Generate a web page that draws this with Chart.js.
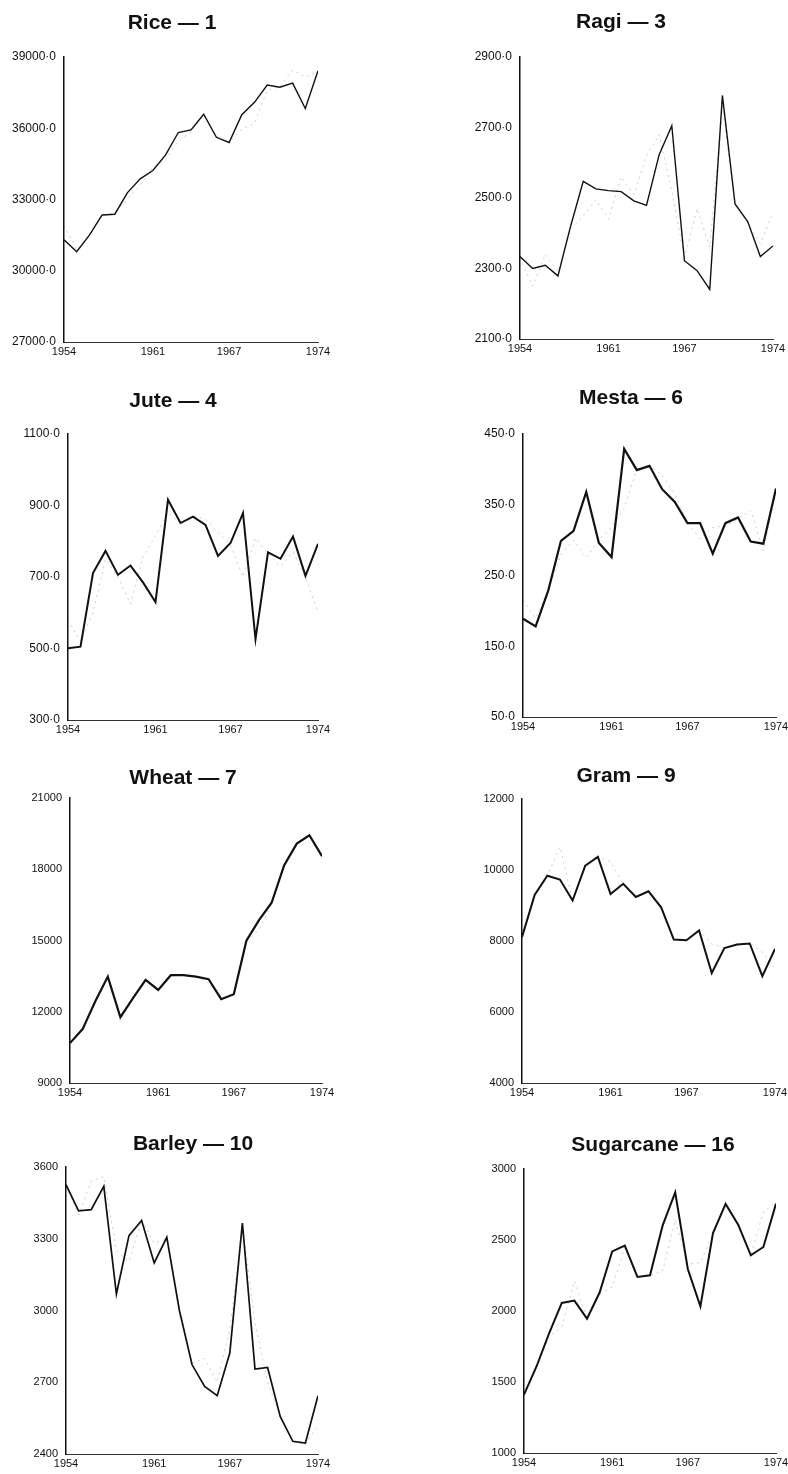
<!DOCTYPE html>
<html>
<head>
<meta charset="utf-8">
<script src="https://cdn.jsdelivr.net/npm/chart.js@4.4.1/dist/chart.umd.min.js"></script>
<style>
  html, body { margin: 0; padding: 0; background: #fff; overflow: hidden; width: 788px; height: 1474px; }
  canvas { position: absolute; }
</style>
</head>
<body>
<script>
// Crop production series, 1954–1974: recorded values and fitted trend
const years = [1954, 1955, 1956, 1957, 1958, 1959, 1960, 1961, 1962, 1963, 1964,
               1965, 1966, 1967, 1968, 1969, 1970, 1971, 1972, 1973, 1974];
const yearTicks = [1954, 1961, 1967, 1974];

const riceActual = [31300, 30800, 31500, 32350, 32380, 33290, 33870, 34220, 34880, 35820, 35930,
                    36590, 35620, 35400, 36570, 37090, 37820, 37730, 37900, 36830, 38420];
const riceFitted = [31900, 30900, 31500, 32300, 32450, 33000, 33600, 34350, 34700, 35450, 35850,
                    36550, 35650, 35400, 35950, 36200, 37600, 37750, 38450, 38150, 38400];
const riceTicks = [27000, 30000, 33000, 36000, 39000];

const ragiActual = [2334, 2300, 2309, 2279, 2420, 2547, 2526, 2521, 2518, 2492, 2479,
                    2623, 2705, 2322, 2294, 2241, 2791, 2483, 2433, 2334, 2364];
const ragiFitted = [2330, 2250, 2340, 2290, 2410, 2450, 2495, 2440, 2560, 2510, 2620,
                    2680, 2520, 2330, 2470, 2360, 2760, 2480, 2430, 2370, 2460];
const ragiTicks = [2100, 2300, 2500, 2700, 2900];

const juteActual = [501, 505, 711, 773, 706, 732, 685, 630, 916, 851, 869,
                    846, 759, 795, 879, 526, 769, 751, 813, 703, 793];
const juteFitted = [580, 520, 600, 750, 700, 625, 757, 815, 880, 850, 870,
                    862, 825, 790, 700, 809, 765, 730, 770, 700, 600];
const juteTicks = [300, 500, 700, 900, 1100];

const mestaActual = [189, 178, 229, 299, 313, 368, 296, 276, 429, 399, 405,
                     372, 354, 324, 324, 281, 324, 332, 298, 295, 373];
const mestaFitted = [215, 190, 230, 280, 300, 275, 300, 318, 345, 400, 405,
                     392, 365, 325, 302, 318, 320, 330, 342, 285, 370];
const mestaTicks = [50, 150, 250, 350, 450];

const wheatActual = [10680, 11270, 12430, 13480, 11770, 12570, 13340, 12920, 13540, 13540, 13480,
                     13370, 12530, 12740, 14990, 15860, 16590, 18170, 19080, 19430, 18550];
const wheatFitted = [10700, 11250, 12400, 13450, 11600, 12550, 13300, 12950, 13500, 13550, 13450,
                     13200, 12550, 12750, 14950, 15450, 16550, 18150, 19050, 19400, 18550];
const wheatTicks = [9000, 12000, 15000, 18000, 21000];

const gramActual = [8110, 9300, 9840, 9730, 9140, 10120, 10370, 9320, 9610, 9240, 9400,
                    8950, 8040, 8020, 8300, 7100, 7800, 7900, 7930, 7010, 7780];
const gramFitted = [8100, 9300, 9840, 10650, 9150, 10100, 10360, 10240, 9600, 9240, 9400,
                    8950, 8040, 8020, 8300, 7920, 7800, 7900, 7930, 7690, 7240];
const gramTicks = [4000, 6000, 8000, 10000, 12000];

const barleyActual = [3526, 3417, 3422, 3519, 3069, 3313, 3376, 3199, 3306, 3000, 2774,
                      2683, 2644, 2822, 3366, 2755, 2762, 2557, 2453, 2446, 2644];
const barleyFitted = [3520, 3400, 3540, 3560, 3250, 3205, 3380, 3280, 3300, 3010, 2780,
                      2800, 2700, 2920, 3360, 2950, 2700, 2560, 2450, 2440, 2520];
const barleyTicks = [2400, 2700, 3000, 3300, 3600];

const sugarActual = [1411, 1611, 1845, 2057, 2073, 1946, 2130, 2420, 2460, 2240, 2251,
                     2601, 2836, 2296, 2033, 2549, 2754, 2608, 2392, 2451, 2756];
const sugarFitted = [1420, 1600, 1820, 1890, 2210, 1950, 2120, 2170, 2450, 2240, 2250,
                     2280, 2640, 2330, 2340, 2550, 2750, 2600, 2390, 2700, 2760];
const sugarTicks = [1000, 1500, 2000, 2500, 3000];

// Panel layout: plot box (L, R, T, B), title centre (tx, ty), line weight
const panels = [
  { title: 'Rice — 1',       actual: riceActual,   fitted: riceFitted,   ticks: riceTicks,   decimal: true,
    L: 64,  R: 318, T: 57,   B: 342,  tx: 172, ty: 24,   lw: 1.4 },
  { title: 'Ragi — 3',       actual: ragiActual,   fitted: ragiFitted,   ticks: ragiTicks,   decimal: true,
    L: 520, R: 773, T: 57,   B: 339,  tx: 621, ty: 23,   lw: 1.4 },
  { title: 'Jute — 4',       actual: juteActual,   fitted: juteFitted,   ticks: juteTicks,   decimal: true,
    L: 68,  R: 318, T: 434,  B: 720,  tx: 173, ty: 402,  lw: 2.0 },
  { title: 'Mesta — 6',      actual: mestaActual,  fitted: mestaFitted,  ticks: mestaTicks,  decimal: true,
    L: 523, R: 776, T: 434,  B: 717,  tx: 631, ty: 399,  lw: 2.2 },
  { title: 'Wheat — 7',      actual: wheatActual,  fitted: wheatFitted,  ticks: wheatTicks,  decimal: false,
    L: 70,  R: 322, T: 798,  B: 1083, tx: 183, ty: 779,  lw: 2.2 },
  { title: 'Gram — 9',       actual: gramActual,   fitted: gramFitted,   ticks: gramTicks,   decimal: false,
    L: 522, R: 775, T: 799,  B: 1083, tx: 626, ty: 777,  lw: 2.0 },
  { title: 'Barley — 10',    actual: barleyActual, fitted: barleyFitted, ticks: barleyTicks, decimal: false,
    L: 66,  R: 318, T: 1167, B: 1454, tx: 193, ty: 1145, lw: 1.7 },
  { title: 'Sugarcane — 16', actual: sugarActual,  fitted: sugarFitted,  ticks: sugarTicks,  decimal: false,
    L: 524, R: 776, T: 1169, B: 1453, tx: 653, ty: 1146, lw: 2.0 }
];

const TITLE_SIZE = 21;
const TITLE_LH = 1.2;
const Y_AXIS_W = 62;   // room for the value labels left of the axis
const PAD_R = 24;
const X_AXIS_H = 26;

panels.forEach(p => {
  // The title is centred over [A, Bx]; an empty right-hand spacer axis
  // keeps the plot itself ending at R.
  const A = p.L - Y_AXIS_W;
  const Bx = 2 * p.tx - A;
  const extraRight = Math.max(0, Bx - p.R);
  const left = A;
  const width = Math.round(Bx + PAD_R - left);
  const half = TITLE_SIZE * TITLE_LH / 2;
  const top = Math.round(p.ty - half);
  const titleGap = p.T - top - 2 * half;
  const height = Math.round(p.B - top + X_AXIS_H);

  const c = document.createElement('canvas');
  c.width = width; c.height = height;
  c.style.left = left + 'px'; c.style.top = top + 'px';
  c.style.width = width + 'px'; c.style.height = height + 'px';
  document.body.appendChild(c);

  new Chart(c, {
    type: 'line',
    data: {
      datasets: [
        {
          data: years.map((y, i) => ({ x: y, y: p.actual[i] })),
          borderColor: '#111', borderWidth: p.lw, pointRadius: 0, tension: 0, fill: false
        },
        {
          data: years.map((y, i) => ({ x: y, y: p.fitted[i] })),
          borderColor: 'rgba(60,60,60,0.26)', borderWidth: 1, borderDash: [2, 4],
          pointRadius: 0, tension: 0, fill: false
        }
      ]
    },
    options: {
      responsive: false,
      animation: false,
      events: [],
      layout: { padding: { left: 0, right: PAD_R, top: 0, bottom: 0 } },
      plugins: {
        legend: { display: false },
        tooltip: { enabled: false },
        title: {
          display: true, text: p.title, color: '#111',
          font: { family: "'Liberation Sans', Arial, sans-serif", size: TITLE_SIZE, weight: 'bold', lineHeight: TITLE_LH },
          padding: { top: 0, bottom: titleGap }
        }
      },
      scales: {
        x: {
          type: 'linear', min: years[0], max: years[years.length - 1],
          grid: { display: false, drawTicks: false },
          border: { display: true, color: '#333', width: 1 },
          afterBuildTicks: s => { s.ticks = yearTicks.map(v => ({ value: v })); },
          ticks: {
            callback: v => String(v), autoSkip: false, maxRotation: 0, padding: 3, color: '#111',
            font: { family: "'Liberation Sans Narrow', 'Liberation Sans', sans-serif", size: 11 }
          },
          afterFit: s => { s.height = X_AXIS_H; }
        },
        y: {
          type: 'linear', min: p.ticks[0], max: p.ticks[p.ticks.length - 1],
          grid: { display: false, drawTicks: false },
          border: { display: true, color: '#111', width: 1.5 },
          afterBuildTicks: s => { s.ticks = p.ticks.map(v => ({ value: v })); },
          ticks: {
            callback: v => p.decimal ? v + '·0' : String(v), autoSkip: false, padding: 8, color: '#111',
            font: { family: "'Liberation Sans', Arial, sans-serif", size: p.decimal ? 12 : 11 }
          },
          afterFit: s => { s.width = Y_AXIS_W; }
        },
        spacer: {
          type: 'linear', position: 'right', display: extraRight > 0,
          grid: { display: false, drawTicks: false },
          border: { display: false },
          ticks: { display: false },
          afterFit: s => { s.width = extraRight; }
        }
      }
    }
  });
});
</script>
</body>
</html>
